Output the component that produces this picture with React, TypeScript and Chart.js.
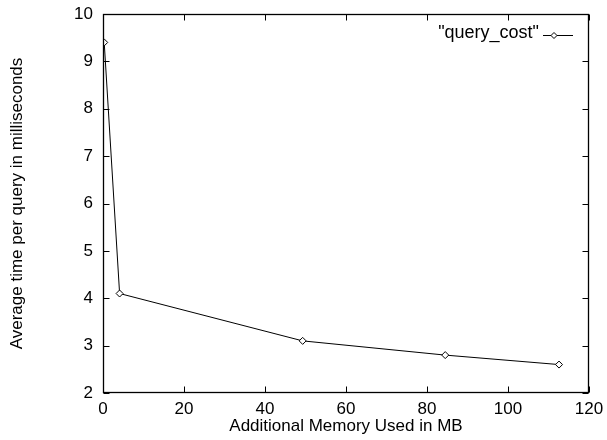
import React, { useEffect, useRef } from 'react';
import { Chart, registerables } from 'chart.js';

Chart.register(...registerables);

const memoryMB = [0.3, 4.1, 49.3, 84.5, 112.6];
const avgTimeMs = [9.4, 4.1, 3.1, 2.8, 2.6];
const seriesLabel = '"query_cost"';
const xTitle = 'Additional Memory Used in MB';
const yTitle = 'Average time per query in milliseconds';
const xTicks = [0, 20, 40, 60, 80, 100, 120];
const yTicks = [2, 3, 4, 5, 6, 7, 8, 9, 10];

const FONT = 'Liberation Sans, Arial, sans-serif';
const FS = 17;

const framePlugin = {
  id: 'gnuFrame',
  afterDatasetsDraw(chart: any) {
    const { ctx, chartArea: a, scales } = chart;
    const xs = scales.x;
    const ys = scales.y;
    const L = Math.round(a.left) + 0.5;
    const R = Math.round(a.right) - 0.5;
    const T = Math.round(a.top) + 0.5;
    const B = Math.round(a.bottom) - 0.5;
    const tl = 6;
    ctx.save();
    ctx.strokeStyle = '#000';
    ctx.lineWidth = 1;
    ctx.beginPath();
    xTicks.forEach((v) => {
      const px = Math.round(xs.getPixelForValue(v)) + 0.5;
      ctx.moveTo(px, B);
      ctx.lineTo(px, B - tl);
      ctx.moveTo(px, T);
      ctx.lineTo(px, T + tl);
    });
    yTicks.forEach((v) => {
      const py = Math.round(ys.getPixelForValue(v)) + 0.5;
      ctx.moveTo(L, py);
      ctx.lineTo(L + tl, py);
      ctx.moveTo(R, py);
      ctx.lineTo(R - tl, py);
    });
    ctx.stroke();
    ctx.lineWidth = 1.3;
    ctx.strokeRect(L, T, R - L, B - T);

    // legend (gnuplot style, top-right inside)
    const textRight = a.right - 50;
    const ly = a.top + 21;
    ctx.fillStyle = '#000';
    ctx.font = `18px ${FONT}`;
    ctx.textAlign = 'right';
    ctx.textBaseline = 'middle';
    ctx.fillText(seriesLabel, textRight, ly - 2);
    const x0 = textRight + 4;
    const x1 = a.right - 16;
    ctx.lineWidth = 1;
    ctx.beginPath();
    ctx.moveTo(x0, ly + 0.5);
    ctx.lineTo(x1, ly + 0.5);
    ctx.stroke();
    const cx = (x0 + x1) / 2 - 4;
    const r = 3;
    ctx.beginPath();
    ctx.moveTo(cx, ly + 0.5 - r);
    ctx.lineTo(cx + r, ly + 0.5);
    ctx.lineTo(cx, ly + 0.5 + r);
    ctx.lineTo(cx - r, ly + 0.5);
    ctx.closePath();
    ctx.fillStyle = '#fff';
    ctx.fill();
    ctx.stroke();
    ctx.restore();
  },
};

export default function App() {
  const canvasRef = useRef<HTMLCanvasElement | null>(null);

  useEffect(() => {
    document.body.style.margin = '0';
    const canvas = canvasRef.current;
    if (!canvas) return;
    const chart = new Chart(canvas, {
      type: 'line',
      data: {
        datasets: [
          {
            label: seriesLabel,
            data: memoryMB.map((m, i) => ({ x: m, y: avgTimeMs[i] })),
            borderColor: '#000',
            borderWidth: 1,
            backgroundColor: '#fff',
            pointStyle: 'rectRot',
            pointRadius: 3.5,
            pointBorderWidth: 1,
            pointBorderColor: '#000',
            pointBackgroundColor: '#fff',
            tension: 0,
            fill: false,
          },
        ],
      },
      options: {
        animation: false,
        responsive: false,
        maintainAspectRatio: false,
        devicePixelRatio: 1,
        layout: { padding: { top: 14, right: 18, left: 0, bottom: 0 } },
        plugins: {
          legend: { display: false },
          tooltip: { enabled: false },
          title: { display: false },
        },
        scales: {
          x: {
            type: 'linear',
            min: 0,
            max: 120,
            afterFit: (s: any) => {
              s.height = 47;
              s.paddingLeft = 0;
              s.paddingRight = 0;
            },
            afterBuildTicks: (s: any) => {
              s.ticks = xTicks.map((v) => ({ value: v }));
            },
            grid: { display: false, tickLength: 0 },
            border: { display: false },
            ticks: {
              color: '#000',
              font: { family: FONT, size: FS },
              padding: 6,
              maxRotation: 0,
              autoSkip: false,
            },
            title: {
              display: true,
              text: xTitle,
              color: '#000',
              font: { family: FONT, size: FS },
              padding: { top: 0, bottom: 3 },
            },
          },
          y: {
            type: 'linear',
            min: 2,
            max: 10,
            afterFit: (s: any) => {
              s.width = 103;
              s.paddingTop = 0;
              s.paddingBottom = 0;
            },
            afterBuildTicks: (s: any) => {
              s.ticks = yTicks.map((v) => ({ value: v }));
            },
            grid: { display: false, tickLength: 0 },
            border: { display: false },
            ticks: {
              color: '#000',
              font: { family: FONT, size: FS },
              padding: 10,
              autoSkip: false,
            },
            title: {
              display: true,
              text: yTitle,
              color: '#000',
              font: { family: FONT, size: FS },
              padding: { top: 7, bottom: 0 },
            },
          },
        },
      },
      plugins: [framePlugin],
    });
    return () => chart.destroy();
  }, []);

  return (
    <div style={{ position: 'absolute', left: 0, top: 0, width: 607, height: 440 }}>
      <canvas ref={canvasRef} width={607} height={440} style={{ width: 607, height: 440 }} />
    </div>
  );
}
